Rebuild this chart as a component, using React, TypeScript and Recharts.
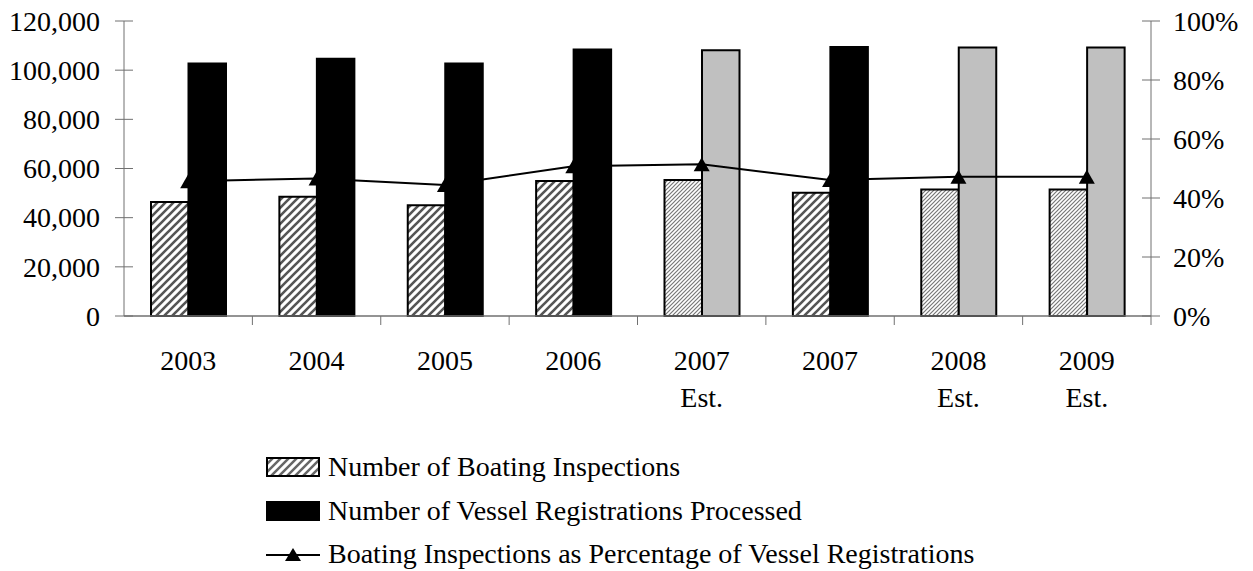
import React from 'react';
import { ComposedChart, Bar, Line, XAxis, YAxis, Cell, Legend } from 'recharts';

// ---- data ----
const categories = ['2003', '2004', '2005', '2006', '2007\nEst.', '2007', '2008\nEst.', '2009\nEst.'];
const estimated = [false, false, false, false, true, false, true, true];
const inspections = [46400, 48500, 45100, 54900, 55300, 50100, 51500, 51500];
const registrations = [102700, 104600, 102700, 108400, 108100, 109400, 109200, 109200];
const percentages = [0.457, 0.466, 0.444, 0.508, 0.514, 0.461, 0.472, 0.472];
const leftTicks = [0, 20000, 40000, 60000, 80000, 100000, 120000];
const rightTicks = [0, 0.2, 0.4, 0.6, 0.8, 1];
const seriesNames = [
  'Number of Boating Inspections',
  'Number of Vessel Registrations Processed',
  'Boating Inspections as Percentage of Vessel Registrations',
];

const data = categories.map((cat, i) => ({
  cat,
  inspections: inspections[i],
  registrations: registrations[i],
  pct: percentages[i],
}));

// ---- layout ----
const W = 1253;
const H = 571;
const LEFT_W = 124;
const RIGHT_W = 102;
const TOP = 21;
const XAXIS_H = 100;
const PLOT_H = 295;
const BOTTOM = H - TOP - PLOT_H - XAXIS_H;
const PLOT_W = W - LEFT_W - RIGHT_W;
const BAND = PLOT_W / categories.length;
const FONT =
  '"Liberation Serif", "Times New Roman", Times, Tinos, "Noto Serif", "DejaVu Serif", FreeSerif, "Nimbus Roman", "Nimbus Roman No9 L", serif';
const AXIS_COLOR = '#707070';

const XTick = (props: any) => {
  const { x, y, payload } = props;
  const lines = String(payload.value).split('\n');
  return (
    <g>
      <line x1={x + BAND / 2} x2={x + BAND / 2} y1={y} y2={y + 9} stroke={AXIS_COLOR} strokeWidth={1} />
      {lines.map((t, i) => (
        <text key={i} x={x} y={y + 54 + i * 37} textAnchor="middle" style={{ fontFamily: FONT, fontSize: 28 }} fill="#000">
          {t}
        </text>
      ))}
    </g>
  );
};

const LeftTick = (props: any) => {
  const { x, y, payload } = props;
  return (
    <g>
      <line x1={x - 9} x2={x + 9} y1={y} y2={y} stroke={AXIS_COLOR} strokeWidth={1} />
      <text x={x - 24} y={y} dy="0.35em" textAnchor="end" style={{ fontFamily: FONT, fontSize: 28 }} fill="#000">
        {Number(payload.value).toLocaleString('en-US')}
      </text>
    </g>
  );
};

const RightTick = (props: any) => {
  const { x, y, payload } = props;
  return (
    <g>
      <line x1={x - 9} x2={x + 9} y1={y} y2={y} stroke={AXIS_COLOR} strokeWidth={1} />
      <text x={x + 22} y={y} dy="0.35em" textAnchor="start" style={{ fontFamily: FONT, fontSize: 28 }} fill="#000">
        {`${Math.round(Number(payload.value) * 100)}%`}
      </text>
    </g>
  );
};

const TriangleDot = (props: any) => {
  const { cx, cy, index } = props;
  if (cx == null || cy == null) return null;
  return <path key={index} d={`M${cx},${cy - 7} L${cx + 8},${cy + 7} L${cx - 8},${cy + 7} Z`} fill="#000" stroke="none" />;
};

const LegendContent = () => {
  const rowStyle: React.CSSProperties = {
    display: 'flex',
    alignItems: 'center',
    height: 43.5,
    fontFamily: FONT,
    fontSize: 28,
    color: '#000',
    whiteSpace: 'nowrap',
  };
  return (
    <div>
      <div style={rowStyle}>
        <svg width={54} height={20} style={{ marginRight: 8 }}>
          <defs>
            <pattern id="legHatch" patternUnits="userSpaceOnUse" width={8} height={8}>
              <path d="M-2,2 l4,-4 M0,8 l8,-8 M6,10 l4,-4" stroke="#666" strokeWidth={2.5} />
            </pattern>
          </defs>
          <rect x={1} y={1} width={52} height={18} fill="url(#legHatch)" stroke="#000" strokeWidth={2} />
        </svg>
        <span>{seriesNames[0]}</span>
      </div>
      <div style={rowStyle}>
        <svg width={54} height={20} style={{ marginRight: 8 }}>
          <rect x={1} y={1} width={52} height={18} fill="#000" stroke="#000" strokeWidth={2} />
        </svg>
        <span>{seriesNames[1]}</span>
      </div>
      <div style={rowStyle}>
        <svg width={54} height={20} style={{ marginRight: 8 }}>
          <line x1={0} x2={54} y1={11} y2={11} stroke="#000" strokeWidth={2} />
          <path d="M27,4 L35,17 L19,17 Z" fill="#000" />
        </svg>
        <span>{seriesNames[2]}</span>
      </div>
    </div>
  );
};

export default function App() {
  return (
    <div style={{ margin: '-8px 0 0 -8px', width: W, height: H, fontFamily: FONT }}>
      <ComposedChart
        width={W}
        height={H}
        data={data}
        margin={{ top: TOP, right: 0, bottom: BOTTOM, left: 0 }}
        barGap={0}
      >
        <defs>
          <pattern id="hatchWide" patternUnits="userSpaceOnUse" width={8} height={8}>
            <rect width={8} height={8} fill="#fff" />
            <path d="M-2,2 l4,-4 M0,8 l8,-8 M6,10 l4,-4" stroke="#555" strokeWidth={2.6} />
          </pattern>
          <pattern id="hatchFine" patternUnits="userSpaceOnUse" width={4} height={4}>
            <rect width={4} height={4} fill="#fff" />
            <path d="M-1,1 l2,-2 M0,4 l4,-4 M3,5 l2,-2" stroke="#777" strokeWidth={1.2} />
          </pattern>
        </defs>
        <XAxis
          dataKey="cat"
          xAxisId="x"
          height={XAXIS_H}
          interval={0}
          tickLine={false}
          tickSize={0}
          tickMargin={0}
          tick={<XTick />}
          axisLine={{ stroke: AXIS_COLOR, strokeWidth: 1.5 }}
        />
        <YAxis
          yAxisId="left"
          orientation="left"
          width={LEFT_W}
          domain={[0, 120000]}
          ticks={leftTicks}
          interval={0}
          tickLine={false}
          tickSize={0}
          tickMargin={0}
          tick={<LeftTick />}
          axisLine={{ stroke: AXIS_COLOR }}
        />
        <YAxis
          yAxisId="right"
          orientation="right"
          width={RIGHT_W}
          domain={[0, 1]}
          ticks={rightTicks}
          interval={0}
          tickLine={false}
          tickSize={0}
          tickMargin={0}
          tick={<RightTick />}
          axisLine={{ stroke: AXIS_COLOR }}
        />
        <Bar dataKey="inspections" xAxisId="x" yAxisId="left" barSize={37.5} isAnimationActive={false}>
          {data.map((d, i) => (
            <Cell
              key={`i${i}`}
              fill={estimated[i] ? 'url(#hatchFine)' : 'url(#hatchWide)'}
              stroke="#000"
              strokeWidth={2}
            />
          ))}
        </Bar>
        <Bar dataKey="registrations" xAxisId="x" yAxisId="left" barSize={37.5} isAnimationActive={false}>
          {data.map((d, i) => (
            <Cell key={`r${i}`} fill={estimated[i] ? '#c0c0c0' : '#000'} stroke="#000" strokeWidth={2} />
          ))}
        </Bar>
        <Line
          type="linear"
          dataKey="pct"
          xAxisId="x"
          yAxisId="right"
          stroke="#000"
          strokeWidth={2}
          dot={<TriangleDot />}
          activeDot={false}
          isAnimationActive={false}
        />
        <Legend
          layout="horizontal"
          verticalAlign="middle"
          align="center"
          wrapperStyle={{ top: 445.5, left: 266, width: 'auto' }}
          content={<LegendContent />}
        />
      </ComposedChart>
    </div>
  );
}
